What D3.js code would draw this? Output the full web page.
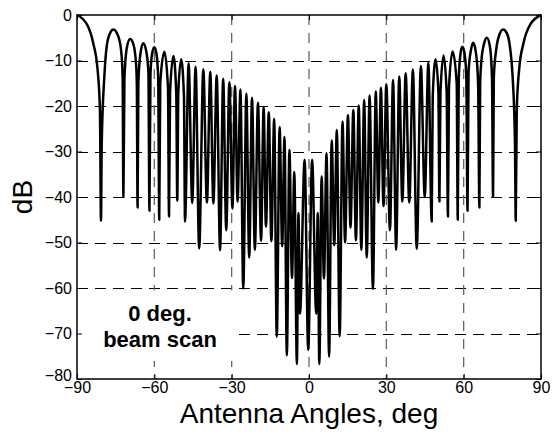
<!DOCTYPE html>
<html>
<head>
<meta charset="utf-8">
<script src="https://cdn.jsdelivr.net/npm/d3@7/dist/d3.min.js"></script>
<style>
  html, body { margin: 0; padding: 0; background: #fff; }
  svg { display: block; }
  text { font-family: "Liberation Sans", Arial, Helvetica, sans-serif; fill: #000; }
</style>
</head>
<body>
<svg id="chart" width="553" height="435"></svg>
<script>
// ---- data ----
const xTicks = [-90, -60, -30, 0, 30, 60, 90];
const yTicks = [0, -10, -20, -30, -40, -50, -60, -70, -80];

// pattern: angle (deg) and level (dB), ordered left to right
const angles = [
  -90, -86.0, -83.7, -82.0, -81.1, -80.7,
  -80.4, -79.4, -78.5, -77.2, -75.9, -74.2, -72.9, -72.3, -72.0,
  -71.6, -70.6, -69.4, -68.2, -67.1, -66.8, -66.5,
  -66.2, -65.4, -64.3, -63.2, -62.3, -61.9,
  -61.5, -60.8, -60.0, -59.2, -58.5, -58.1,
  -57.7, -56.1, -54.7, -54.3,
  -53.9, -52.6, -51.5, -51.1,
  -50.7, -49.6, -48.5, -48.1,
  -46.7, -45.3, -44.0, -42.6,
  -41.0, -39.6, -38.3, -37.1, -35.8, -34.5, -33.3, -32.1, -30.9, -29.7,
  -28.7, -27.7, -26.6, -25.5, -24.3, -23.2, -22.1, -21.0, -19.8, -18.6,
  -17.6, -16.7, -15.6, -14.6, -13.5, -12.5, -11.4, -10.4, -9.5, -8.6,
  -7.6, -6.6, -5.7, -4.7, -4.1, -3.5, -1.7, -0.3,
  1.2, 2.8, 3.4, 4.0, 4.9, 5.8, 6.8, 7.8, 8.8, 9.8,
  10.8, 11.9, 13.0, 14.0, 15.1, 16.1, 17.2, 18.2, 19.3, 20.3,
  21.4, 22.4, 23.5, 24.8, 25.9, 26.9, 27.9, 28.9, 30.0, 31.4,
  32.6, 33.8, 35.0, 36.2, 37.5, 38.9, 40.3, 41.8, 43.4, 44.9,
  46.3, 47.6,
  48.0, 49.1, 50.2, 50.6,
  51.0, 52.2, 53.4, 53.9,
  54.3, 55.7, 57.3, 57.7,
  58.1, 58.8, 59.5, 60.3, 61.0, 61.5,
  61.9, 62.8, 63.7, 64.8, 65.6, 66.1,
  66.4, 66.8, 67.9, 69.0, 70.2, 71.0, 71.4,
  71.7, 72.6, 73.8, 75.3, 76.9, 78.0, 79.0, 79.9, 80.2,
  80.6, 81.5, 83.2, 85.7, 90
];
const levels = [
  0, -2.2, -6.2, -12.1, -20.9, -45.2,
  -28.2, -13.6, -7.0, -4.0, -3.2, -4.4, -7.7, -13.6, -40.0,
  -14.0, -7.0, -5.3, -6.3, -10.6, -15.0, -42.3,
  -15.0, -8.5, -6.2, -7.8, -12.5, -43.0,
  -13.0, -8.3, -7.1, -8.4, -14.0, -45.0,
  -15.0, -8.1, -16.0, -44.3,
  -17.0, -9.0, -17.0, -40.8,
  -17.0, -9.7, -18.0, -45.4,
  -10.6, -41.3, -11.4, -51.3,
  -11.9, -41.2, -12.5, -41.4, -13.3, -51.7, -14.0, -47.3, -14.8, -42.5,
  -15.6, -41.0, -16.4, -60.1, -17.3, -53.3, -18.2, -51.6, -19.3, -49.6,
  -20.3, -46.5, -21.4, -49.7, -22.8, -70.7, -24.6, -50.8, -26.8, -74.8,
  -29.6, -57.8, -34.5, -76.7, -43.5, -65.6, -31.8, -73.6,
  -31.8, -65.6, -43.5, -76.7, -35.5, -57.9, -30.4, -75.1, -27.6, -50.6,
  -25.3, -70.6, -23.4, -50.0, -22.0, -46.7, -20.9, -49.5, -19.9, -51.6,
  -18.7, -53.3, -17.7, -60.2, -16.8, -41.2, -16.0, -42.0, -15.2, -47.3,
  -14.3, -51.6, -13.5, -41.0, -12.8, -41.2, -12.0, -51.4, -11.2, -40.0,
  -10.5, -45.4,
  -18.0, -9.7, -17.0, -41.0,
  -17.0, -8.9, -17.0, -44.3,
  -16.0, -8.0, -15.0, -45.0,
  -14.0, -8.4, -7.0, -8.3, -13.0, -43.0,
  -12.5, -7.8, -6.1, -8.5, -15.0, -42.3,
  -15.0, -10.6, -6.3, -5.0, -7.0, -14.0, -40.0,
  -13.6, -7.7, -4.4, -3.2, -4.2, -7.2, -13.6, -28.0, -45.2,
  -20.9, -12.1, -6.2, -2.2, 0
];

const noteLines = ["0 deg.", "beam scan"];
const xTitle = "Antenna Angles, deg";
const yTitle = "dB";

// ---- layout ----
const svg = d3.select("#chart");
const L = 77, T = 15, W = 464, H = 364;

const x = d3.scaleLinear().domain([-90, 90]).range([L, L + W]);
const y = d3.scaleLinear().domain([-80, 0]).range([T + H, T]);

const g = svg.append("g");

// grid
g.append("g").selectAll("line").data(yTicks.filter(v => v !== 0 && v !== -80)).join("line")
  .attr("x1", L).attr("x2", L + W)
  .attr("y1", d => Math.round(y(d)) + 0.5).attr("y2", d => Math.round(y(d)) + 0.5)
  .attr("stroke", "#000").attr("stroke-width", 1).attr("stroke-dasharray", "11,7");
g.append("g").selectAll("line").data(xTicks.filter(v => v !== -90 && v !== 90)).join("line")
  .attr("x1", d => x(d)).attr("x2", d => x(d))
  .attr("y1", T).attr("y2", T + H)
  .attr("stroke", "#666").attr("stroke-width", 1.3).attr("stroke-dasharray", "10,8");

// annotation box (hides the grid beneath)
g.append("rect")
  .attr("x", x(-90)).attr("y", y(-60.5))
  .attr("width", x(-27.7) - x(-90)).attr("height", y(-76) - y(-60.5))
  .attr("fill", "#fff");

// pattern line
const line = d3.line()
  .x((d, i) => x(angles[i]))
  .y((d, i) => y(levels[i]))
  .curve(d3.curveMonotoneX);
g.append("path").datum(angles)
  .attr("d", line)
  .attr("fill", "none").attr("stroke", "#000").attr("stroke-width", 2.5)
  .attr("stroke-linejoin", "round");

// axes
const fs = "16px";
const ax = g.append("g").attr("transform", `translate(0,${T + H})`)
  .call(d3.axisBottom(x).tickValues(xTicks).tickSize(-5).tickPadding(3));
const ay = g.append("g").attr("transform", `translate(${L},0)`)
  .call(d3.axisLeft(y).tickValues(yTicks).tickSize(-5).tickPadding(5));
const axT = g.append("g").attr("transform", `translate(0,${T})`)
  .call(d3.axisTop(x).tickValues(xTicks).tickSize(-5).tickFormat(""));
const ayR = g.append("g").attr("transform", `translate(${L + W},0)`)
  .call(d3.axisRight(y).tickValues(yTicks).tickSize(-5).tickFormat(""));
[ax, ay, axT, ayR].forEach(a => {
  a.select(".domain").remove();
  a.selectAll(".tick line").attr("stroke", "#000");
  a.selectAll("text").style("font-family", '"Liberation Sans", Arial, sans-serif')
    .style("font-size", fs).attr("fill", "#000");
});
// lift the bottom y label a little so it clears the first x label
ay.selectAll(".tick").filter(d => d === -80).select("text").attr("dy", "0.1em");

// frame
g.append("rect").attr("x", L).attr("y", T).attr("width", W).attr("height", H)
  .attr("fill", "none").attr("stroke", "#000").attr("stroke-width", 1.5);

// note text
const note = g.append("text")
  .attr("text-anchor", "middle")
  .style("font-size", "22px").style("font-weight", "bold");
note.selectAll("tspan").data(noteLines).join("tspan")
  .attr("x", x(-57.8))
  .attr("y", (d, i) => i === 0 ? 321 : 347)
  .text(d => d);

// titles
svg.append("text").attr("x", x(0)).attr("y", 423)
  .attr("text-anchor", "middle").style("font-size", "28px").text(xTitle);
svg.append("text").attr("transform", `translate(32,${y(-40)}) rotate(-90)`)
  .attr("text-anchor", "middle").style("font-size", "28px").text(yTitle);
</script>
</body>
</html>
